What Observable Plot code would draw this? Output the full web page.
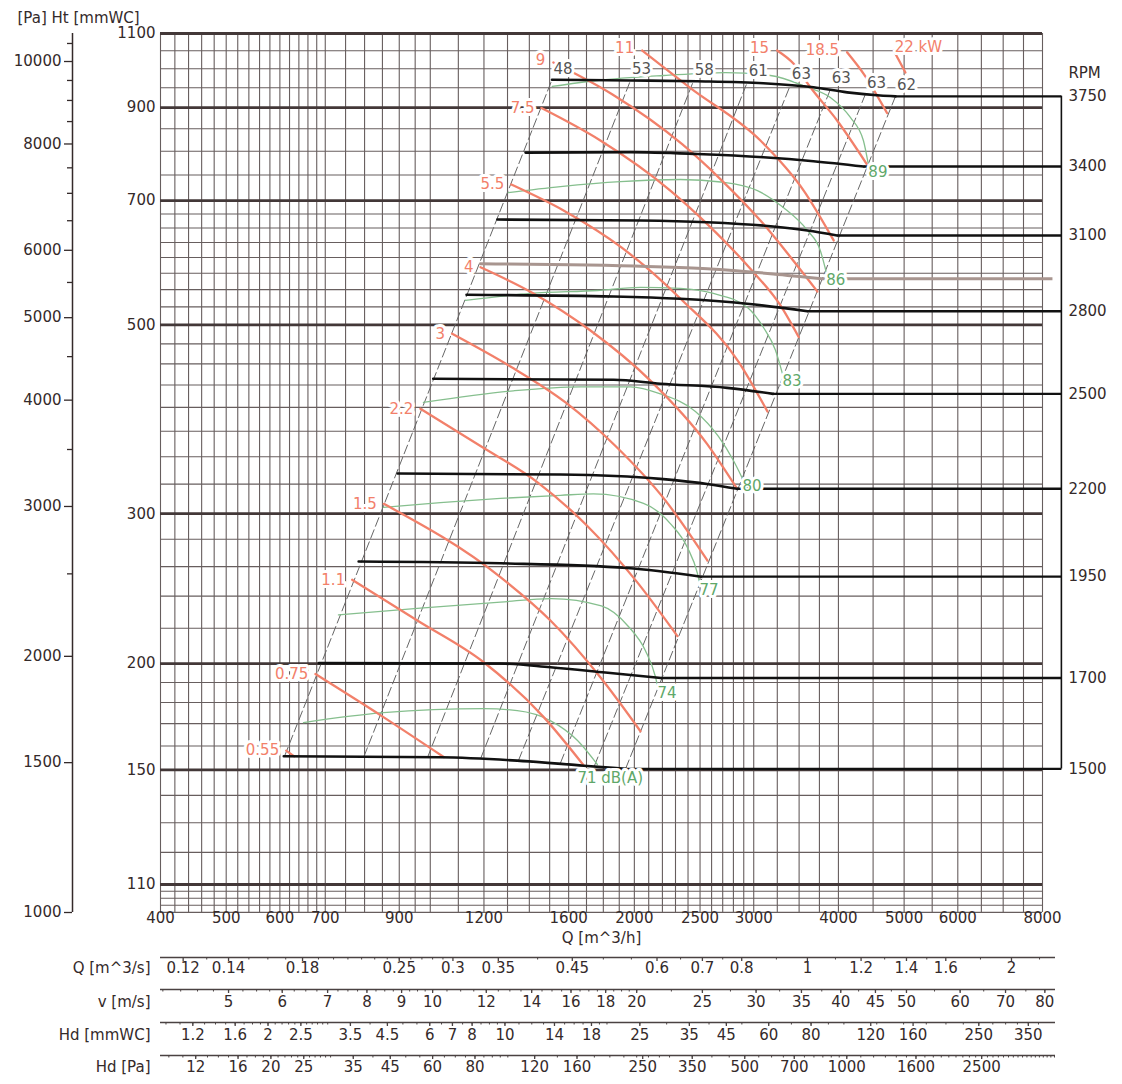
<!DOCTYPE html>
<html><head><meta charset="utf-8">
<script src="https://cdn.jsdelivr.net/npm/d3@7"></script>
<script src="https://cdn.jsdelivr.net/npm/@observablehq/plot@0.6"></script>
<style>body{margin:0;background:#fff}</style>
</head><body><div id="chart"></div>
<script>
// ---------- constants ----------
const mmWC = 9.80665, rho = 1.2, ductArea = 0.028;
const yMin = 1000 / mmWC;          // 1000 Pa
const bracketQ = 8530;             // RPM bracket position (Q units)
const greyExtQ = 8275;

// ---------- grid / tick values ----------
const gridQ = [400,420,440,460,480,500,520,540,560,580,600,620,640,660,680,700,750,800,850,900,950,1000,1100,1200,1300,1400,1500,1600,1700,1800,1900,2000,2100,2200,2300,2400,2500,2600,2700,2800,2900,3000,3250,3500,3750,4000,4500,5000,5500,6000,6500,7000,7500,8000];
const gridHMinor = [102,104,106,108,120,130,140,160,170,180,190,220,240,260,280,325,350,375,400,425,450,475,525,550,575,600,625,650,675,750,800,850,950,1000,1050];
const gridHMajor = [110,150,200,300,500,700,900,1100];
const xTickLabels = [400,500,600,700,900,1200,1600,2000,2500,3000,4000,5000,6000,8000];
const yTickLabels = [110,150,200,300,500,700,900,1100];
const paLabels = [1000,1500,2000,3000,4000,5000,6000,8000,10000];
const paMinorTicks = [2500,3500,4500,5500,6500,7000,7500,8500,9000,9500,10500];

const qsLabels = [0.12,0.14,0.18,0.25,0.3,0.35,0.45,0.6,0.7,0.8,1,1.2,1.4,1.6,2];
const vLabels = [5,6,7,8,9,10,12,14,16,18,20,25,30,35,40,45,50,60,70,80];
const hdMmLabels = [1.2,1.6,2,2.5,3.5,4.5,6,7,8,10,14,18,25,35,45,60,80,120,160,250,350];
const hdPaLabels = [12,16,20,25,35,45,60,80,120,160,250,350,500,700,1000,1600,2500];

// ---------- fan speed curves [Q m3/h, Ht mmWC] ----------
const rpmLabels = ["1500","1700","1950","2200","2500","2800","3100","3400","3750"];
const rpm1500 = [[608,155.6],[1035,155.2],[1343,153.8],[1684,151.7],[1941,150.4]];
const rpm1700 = [[685,200.2],[1269,200],[1504,198],[1812,195.2],[2190,192.3]];
const rpm1950 = [[784,263.6],[1269,262.3],[1951,259],[2510,253]];
const rpm2200 = [[895,334.5],[1556,333.5],[2185,329.6],[2589,324.7],[2835,320.9]];
const rpm2500 = [[1010,432.2],[1865,431],[2185,426.4],[2741,421.7],[3205,414.9]];
const rpm2800 = [[1131,542.4],[1865,540],[2339,536.6],[2934,529.4],[3600,518.8]];
const rpmGrey = [[1186,590],[2089,585.7],[2561,582],[3205,574],[3783,566.4]];
const rpm3100 = [[1256,665],[2042,663.2],[2561,660],[3205,652.6],[3600,645.5],[3982,636.8]];
const rpm3400 = [[1382,797],[1974,798],[2475,794],[3100,787],[3675,778.6],[4359,767.4]];
const rpm3750 = [[1512,970.5],[1974,968.8],[2475,966.8],[3100,961.6],[3675,951],[4120,938],[4610,930],[4855,928]];

// ---------- power curves (kW) ----------
const powerLabels = ["0.55","0.75","1.1","1.5","2.2","3","4","5.5","7.5","9","11","15","18.5","22 kW"];
const pw0_55 = [[613,158],[630,155.6]];
const pw0_75 = [[677,194.4],[854,172.9],[1047,155.3]];
const pw1_1 = [[767,250.9],[957,224.7],[1199,200.7],[1470,173],[1684,151.8]];
const pw1_5 = [[854,308.1],[1269,252.7],[1504,224.7],[1782,192.7],[2042,166.5]];
const pw2_2 = [[967,398.5],[1186,360.3],[1438,326.8],[1702,290.6],[2019,249.3],[2315,215.4]];
const pw3 = [[1077,488.1],[1313,446.7],[1583,405.4],[1876,360.3],[2222,311],[2563,264.3]];
const pw4 = [[1186,584.4],[1420,544.4],[1723,492.5],[2112,430.1],[2560,362.4],[2835,321]];
const pw5_5 = [[1317,731],[1577,680.6],[1914,616.7],[2346,535.6],[2848,452.8],[3143,395.6]];
const pw7_5 = [[1459,899],[1782,823.5],[2260,719.2],[2560,657.3],[2966,581.9],[3285,527],[3495,483.8]];
const pw9 = [[1519,1017],[1857,932.7],[2355,814.7],[2667,744.4],[3090,659],[3421,596.8],[3724,547.3]];
const pw11 = [[2054,1050.6],[2420,949],[3069,823.5],[3555,719.2],[3936,628.4]];
const pw15 = [[3248,1050.6],[3436,1013.4],[3637,951],[3982,869.4],[4409,771.6]];
const pw18_5 = [[4119,1045.7],[4358,986.4],[4718,887.1]];
const pw22 = [[4826,1050.6],[5022,989.7]];

// ---------- noise curves dB(A) ----------
const dBLabels = ["71 dB(A)","74","77","80","83","86","89"];
const dB71 = [[650,170.5],[853,175.1],[1199,177],[1344,176.1],[1503,171.4],[1649,162.4],[1764,152.2]];
const dB74 = [[732,228.1],[967,232.4],[1269,236.2],[1509,238.4],[1788,233.7],[1960,221.1],[2076,207.2],[2148,193.1],[2163,188.5]];
const dB77 = [[853,305.1],[1035,309.2],[1269,312.7],[1556,315.3],[1740,316.5],[2063,308.5],[2260,292.1],[2395,273.8],[2478,255.2],[2495,249.1]];
const dB80 = [[977,405.4],[1326,418.3],[1665,422.9],[1974,422.9],[2185,414.9],[2461,395.6],[2661,369.7],[2800,346.4],[2887,330]];
const dB83 = [[1127,534.2],[1405,544.4],[1764,548.8],[2042,553.3],[2339,551.8],[2616,544.4],[2937,524.2],[3101,496.5],[3229,467.1],[3307,438.3]];
const dB86 = [[1304,715.3],[1556,727],[1908,736.9],[2339,741],[2706,735.5],[3038,719.2],[3318,686.8],[3600,645.6],[3761,611.6],[3839,576.1]];
const dB89 = [[1513,953.1],[1762,968.6],[2210,981.8],[2725,989.7],[3175,981.8],[3576,953.1],[3892,925.2],[4166,876.4],[4354,823.5],[4428,771.8]];

// ---------- system (efficiency) lines ----------
const diagBottom = [[609.5,155.6],[798,155.4],[990,154.9],[1186,154.5],[1349,153.8],[1556,152.8],[1746,151.6],[1941,150.4]];
const diagTop = [[1512,970.5],[1974,968.8],[2444,966.8],[2934,963.4],[3398,956.9],[3892,945.4],[4385,934],[4855,928]];
const diagEff = ["48","53","58","61","63","63","63","62"];

// ---------- build tables ----------
const rpmCurves = [rpm1500,rpm1700,rpm1950,rpm2200,rpm2500,rpm2800,rpm3100,rpm3400,rpm3750];
const rpmRows = rpmCurves.flatMap((c,i)=>c.map(p=>({id:rpmLabels[i],q:p[0],h:p[1]})));
const rpmEnds = rpmCurves.map((c,i)=>({label:rpmLabels[i],q:c[c.length-1][0],h:c[c.length-1][1]}));
const greyEnd = {q:rpmGrey[rpmGrey.length-1][0], h:rpmGrey[rpmGrey.length-1][1]};

const powerCurves = [pw0_55,pw0_75,pw1_1,pw1_5,pw2_2,pw3,pw4,pw5_5,pw7_5,pw9,pw11,pw15,pw18_5,pw22];
const powerSeries = powerCurves.map((c,i)=>({label:powerLabels[i],pts:c}));
const powerRows = powerSeries.flatMap(s=>s.pts.map(p=>({id:s.label,q:p[0],h:p[1]})));
const powerLeft = powerSeries.slice(0,9), powerTop = powerSeries.slice(9,13), powerLast = powerSeries.slice(13);

const noiseCurves = [dB71,dB74,dB77,dB80,dB83,dB86,dB89];
const noiseRows = noiseCurves.flatMap((c,i)=>c.map(p=>({id:dBLabels[i],q:p[0],h:p[1]})));
const noiseEnds = noiseCurves.map((c,i)=>({label:dBLabels[i],q:c[c.length-1][0],h:c[c.length-1][1]}));

const diagonals = diagBottom.map((b,i)=>({q1:b[0],h1:b[1],q2:diagTop[i][0],h2:diagTop[i][1],label:diagEff[i]}));

// bottom scale conversions -> Q m3/h
const qFromQs = q => q*3600;
const qFromV = v => v*ductArea*3600;
const qFromHdMm = h => qFromV(Math.sqrt(2*h*mmWC/rho));
const qFromHdPa = p => qFromV(Math.sqrt(2*p/rho));

const qsMinor = [...d3.range(0.13,0.3,0.01),0.4,0.5,0.55,0.65,0.75,0.9,1.1,1.3,1.5,1.8,2.2];
const vMinor = [...d3.range(4,10,0.25),...d3.range(10,20,0.5),...d3.range(20,50,2.5),...d3.range(50,85,5)];
const hdMmMinor = [...d3.range(1.0,3,0.1),...d3.range(3,10,0.5),...d3.range(10,20,1),...d3.range(20,50,5),...d3.range(50,100,10),...d3.range(100,400,25)];
const hdPaMinor = [...d3.range(10,30,1),...d3.range(30,100,5),...d3.range(100,300,20),...d3.range(300,1000,50),...d3.range(1000,4200,100)];

const rows = [
  {name:"Q [m^3/s]", labels:qsLabels, minor:qsMinor, conv:qFromQs, line:45, text:60},
  {name:"v [m/s]", labels:vLabels, minor:vMinor, conv:qFromV, line:77, text:94},
  {name:"Hd [mmWC]", labels:hdMmLabels, minor:hdMmMinor, conv:qFromHdMm, line:110, text:127},
  {name:"Hd [Pa]", labels:hdPaLabels, minor:hdPaMinor, conv:qFromHdPa, line:143, text:159}
];

// ---------- styles ----------
const ink = "#342a2a", gridCol = "#675e5e", salmon = "#f2806a", greenLine = "#86bf8e", greenText = "#5fa86a";
const FS = 15;

function halo(data, o) {
  return [
    Plot.text(data, {...o, fill:"white", stroke:"white", strokeWidth:6}),
    Plot.text(data, o)
  ];
}

const marks = [
  // grid
  Plot.ruleX(gridQ, {stroke:gridCol, strokeWidth:1.1}),
  Plot.ruleY(gridHMinor, {stroke:gridCol, strokeWidth:1.1}),
  Plot.ruleY(gridHMajor, {stroke:"#433838", strokeWidth:2.8}),
  // system lines
  Plot.link(diagonals, {x1:"q1", y1:"h1", x2:"q2", y2:"h2", stroke:"#666", strokeWidth:1, strokeDasharray:"10,3"}),
  // noise curves
  Plot.line(noiseRows, {x:"q", y:"h", z:"id", stroke:greenLine, strokeWidth:1.3, curve:"monotone-x"}),
  // power curves
  Plot.line(powerRows, {x:"q", y:"h", z:"id", stroke:salmon, strokeWidth:2.3, curve:"monotone-x"}),
  // grey speed curve
  Plot.line(rpmGrey, {x:d=>d[0], y:d=>d[1], stroke:"#a8958f", strokeWidth:3, curve:"monotone-x"}),
  Plot.link([greyEnd], {x1:"q", y1:"h", x2:()=>greyExtQ, y2:"h", stroke:"#a8958f", strokeWidth:3}),
  // RPM curves
  Plot.line(rpmRows, {x:"q", y:"h", z:"id", stroke:"#111", strokeWidth:2.6, curve:"monotone-x"}),
  Plot.link(rpmEnds, {x1:"q", y1:"h", x2:()=>bracketQ, y2:"h", stroke:"#111", strokeWidth:2.4}),
  Plot.ruleX([bracketQ], {y1:()=>rpmEnds[0].h, y2:()=>rpmEnds[rpmEnds.length-1].h, stroke:"#111", strokeWidth:1.6}),
  // labels inside chart
  ...halo(powerLeft, {x:d=>d.pts[0][0], y:d=>d.pts[0][1], text:"label", textAnchor:"end", dx:-7, fill:salmon, fontSize:FS}),
  ...halo(powerTop, {x:d=>d.pts[0][0], y:d=>d.pts[0][1], text:"label", textAnchor:"end", dx:-8, dy:-2, fill:salmon, fontSize:FS}),
  ...halo(powerLast, {x:d=>d.pts[0][0], y:d=>d.pts[0][1], text:"label", textAnchor:"start", dx:1, dy:-3, fill:salmon, fontSize:FS}),
  ...halo(diagonals, {x:"q2", y:"h2", text:"label", dx:11, dy:-11, fill:"#555", fontSize:FS}),
  ...halo(noiseEnds.slice(1), {x:"q", y:"h", text:"label", textAnchor:"start", dx:0, dy:8, fill:greenText, fontSize:FS}),
  ...halo(noiseEnds.slice(0,1), {x:"q", y:"h", text:"label", textAnchor:"start", dx:-20, dy:14, fill:greenText, fontSize:FS}),
  // RPM labels
  Plot.text(rpmEnds, {x:()=>bracketQ, y:"h", text:"label", textAnchor:"start", dx:7, fill:ink, fontSize:FS}),
  Plot.text(["RPM"], {x:()=>bracketQ, y:()=>rpmEnds[rpmEnds.length-1].h, textAnchor:"start", dx:7, dy:-23, fill:ink, fontSize:FS}),
  // main axes (labels as text so every tick label is kept)
  Plot.text(yTickLabels, {y:d=>d, text:d=>String(d), frameAnchor:"left", textAnchor:"end", dx:-5, fill:ink, fontSize:FS}),
  Plot.text(xTickLabels, {x:d=>d, text:d=>String(d), frameAnchor:"bottom", dy:10, fill:ink, fontSize:FS}),
  Plot.text(["Q [m^3/h]"], {frameAnchor:"bottom", dy:30, fill:ink, fontSize:FS}),
  // Pa axis
  Plot.ruleX([400], {dx:-88, stroke:ink, strokeWidth:1.5}),
  Plot.axisY(paLabels.map(p=>p/mmWC), {anchor:"left", dx:-88, tickSize:8, tickFormat:()=>"", color:ink, strokeWidth:1.3, label:null}),
  Plot.axisY(paMinorTicks.map(p=>p/mmWC), {anchor:"left", dx:-88, tickSize:5, tickFormat:()=>"", color:ink, strokeWidth:1.3, label:null}),
  Plot.text(paLabels, {y:p=>p/mmWC, text:p=>String(p), frameAnchor:"left", textAnchor:"end", dx:-99, fill:ink, fontSize:FS}),
  Plot.text(["[Pa] Ht [mmWC]"], {frameAnchor:"top-left", textAnchor:"start", dx:-143, dy:-21, fill:ink, fontSize:FS}),
  // bottom conversion scales
  ...rows.flatMap(r => [
    Plot.ruleY([yMin], {dy:r.line, insetRight:-13, stroke:"#4a4242", strokeWidth:1.4}),
    Plot.axisX(r.minor.map(r.conv), {anchor:"bottom", dy:r.line, tickSize:2.5, tickFormat:()=>"", color:"#4a4242", label:null}),
    Plot.axisX(r.labels.map(r.conv), {anchor:"bottom", dy:r.line, tickSize:4, tickFormat:()=>"", color:"#4a4242", strokeWidth:1.3, label:null}),
    Plot.text(r.labels, {x:d=>r.conv(d), text:d=>String(d), frameAnchor:"bottom", dy:r.text, fill:ink, fontSize:FS}),
    Plot.text([r.name], {frameAnchor:"bottom-left", textAnchor:"end", dx:-10, dy:r.text, fill:ink, fontSize:FS})
  ])
];

const chart = Plot.plot({
  width: 1122, height: 1084,
  marginLeft: 160, marginRight: 80, marginTop: 33, marginBottom: 172,
  x: {type:"log", domain:[400,8000], nice:false, label:null},
  y: {type:"log", domain:[yMin,1100], nice:false, label:null},
  style: {fontFamily:"'DejaVu Sans', sans-serif", fontSize:"15px", background:"white", color:ink},
  marks
});
document.getElementById("chart").appendChild(chart);
</script>
</body></html>
